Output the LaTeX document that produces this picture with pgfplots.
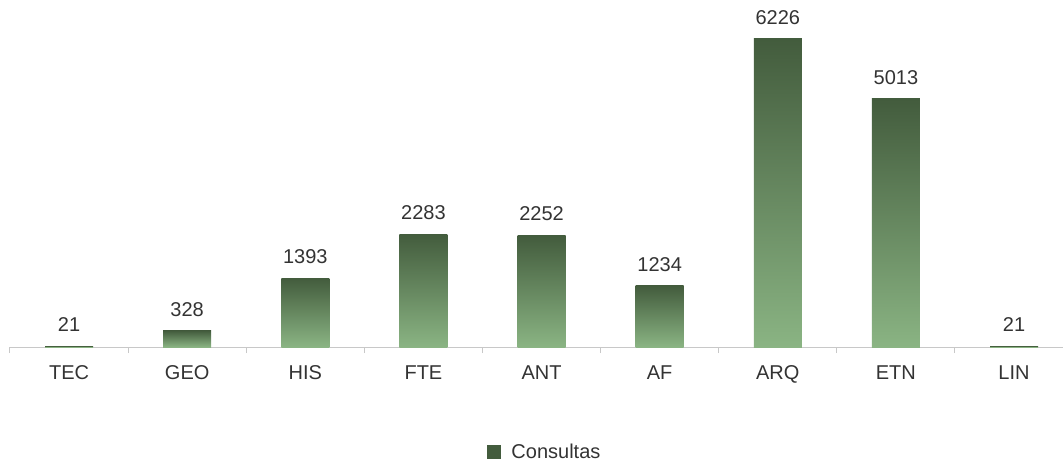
\documentclass[border=0pt]{standalone}
\usepackage{fontspec}
\setmainfont{Liberation Sans}
\usepackage{pgfplots}
\pgfplotsset{compat=1.18}
\definecolor{bartop}{HTML}{435C3D}
\definecolor{barbot}{HTML}{8AB483}
\definecolor{txt}{HTML}{333333}
\definecolor{axgray}{HTML}{C8C8C8}
\pgfplotsset{
  gbar/.style={ybar, bar width=48pt, draw=none,
    top color=bartop, middle color=bartop!90!barbot, bottom color=barbot,
    nodes near coords,
    every node near coord/.append style={font=\fontsize{20}{24}\selectfont, text=txt, yshift=11pt}},
}
\begin{document}
\begin{tikzpicture}[x=1pt,y=1pt]
\useasboundingbox (-10,-119) rectangle (1053,347);
\begin{axis}[
  at={(0,0)}, anchor=south west,
  scale only axis, width=1053pt, height=347pt,
  xmin=-0.5, xmax=8.415, ymin=0, ymax=7014,
  axis x line=bottom, axis y line=none,
  axis line style={axgray, line width=1pt, -},
  xtick={0,...,8},
  xticklabels={TEC,GEO,HIS,FTE,ANT,AF,ARQ,ETN,LIN},
  major tick length=0pt,
  extra x ticks={-0.5,0.5,1.5,2.5,3.5,4.5,5.5,6.5,7.5},
  extra x tick labels={},
  extra x tick style={major tick length=6pt, tick align=outside, tick style={axgray, line width=1pt}},
  xticklabel style={font=\fontsize{20}{24}\selectfont, text=txt, yshift=-15pt},
  /pgf/number format/1000 sep={},
  /pgf/number format/assume math mode=true,
  clip=false,
  legend style={at={(0.508,-0.303)}, anchor=center, draw=none, fill=none,
    font=\fontsize{20}{24}\selectfont, text=txt},
  legend image code/.code={%
    \pgfpathrectangle{\pgfpoint{0pt}{-7pt}}{\pgfpoint{14pt}{14pt}}%
    \pgfsetfillcolor{bartop}\pgfusepath{fill}%
    \pgfpathmoveto{\pgfpoint{0pt}{0pt}}\pgfpathlineto{\pgfpoint{22pt}{0pt}}\pgfusepath{}},
]
\addplot[gbar] coordinates {(0,21)};
\addlegendentry{Consultas}
\addplot[gbar, forget plot] coordinates {(1,328)};
\addplot[gbar, forget plot] coordinates {(2,1393)};
\addplot[gbar, forget plot] coordinates {(3,2283)};
\addplot[gbar, forget plot] coordinates {(4,2252)};
\addplot[gbar, forget plot] coordinates {(5,1234)};
\addplot[gbar, forget plot] coordinates {(6,6226)};
\addplot[gbar, forget plot] coordinates {(7,5013)};
\addplot[gbar, forget plot] coordinates {(8,21)};
\end{axis}
\end{tikzpicture}
\end{document}
